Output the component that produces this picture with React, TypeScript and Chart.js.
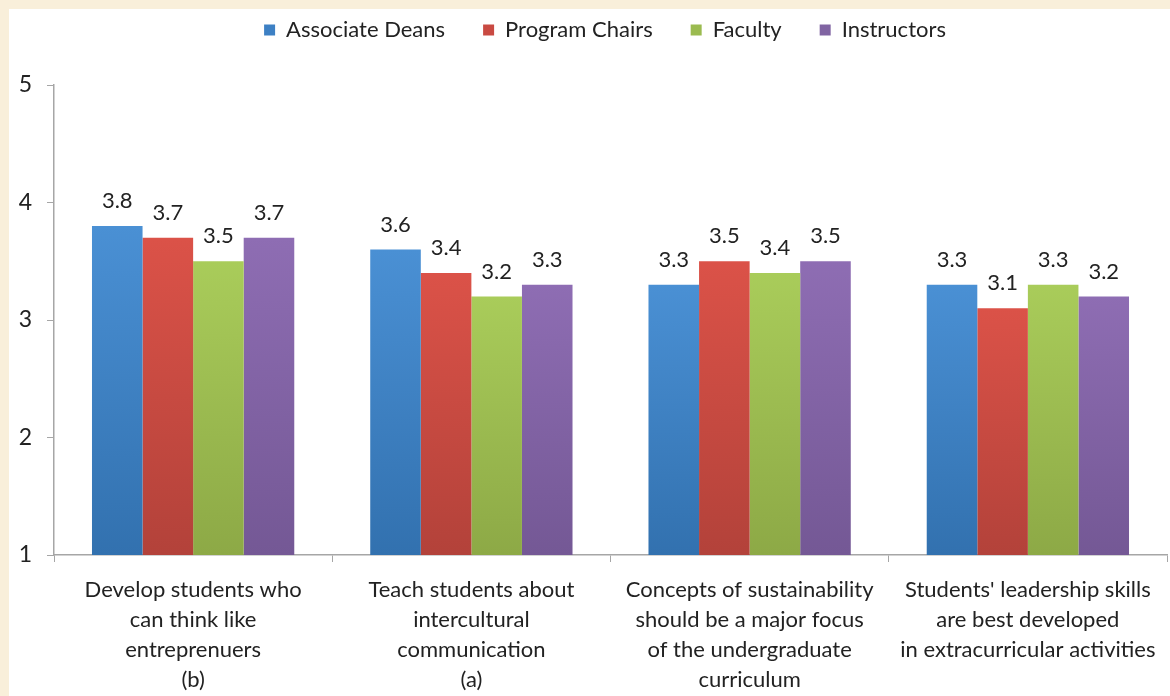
import React, { useEffect, useRef } from "react";
import { Chart, registerables } from "chart.js";

Chart.register(...registerables);

const categories: string[][] = [
  ["Develop students who", "can think like", "entreprenuers", "(b)"],
  ["Teach students about", "intercultural", "communication", "(a)"],
  ["Concepts of sustainability", "should be a major focus", "of the undergraduate", "curriculum"],
  ["Students' leadership skills", "are best developed", "in extracurricular activities"],
];

const seriesNames = ["Associate Deans", "Program Chairs", "Faculty", "Instructors"];
const associateDeans = [3.8, 3.6, 3.3, 3.3];
const programChairs = [3.7, 3.4, 3.5, 3.1];
const faculty = [3.5, 3.2, 3.4, 3.3];
const instructors = [3.7, 3.3, 3.5, 3.2];
const yTicks = [1, 2, 3, 4, 5];

const topColors = ["#4A90D4", "#DB5248", "#A9CC5A", "#8E6DB3"];
const bottomColors = ["#3271AF", "#B3423A", "#8DA946", "#745895"];
const legendColors = ["#3D80C4", "#C94A42", "#9BBB50", "#8064A2"];

const FONT = "Lato, 'Noto Sans', sans-serif";
const FS = 22;
const LEGEND_PAD = 38;

export default function App() {
  const ref = useRef<HTMLCanvasElement | null>(null);

  useEffect(() => {
    if (!ref.current) return;
    const seriesData = [associateDeans, programChairs, faculty, instructors];

    const gradFor = (i: number) => (ctx: any) => {
      const chart = ctx.chart;
      const ys = chart.scales && chart.scales.y;
      if (!ys || ctx.type !== "data") return legendColors[i];
      const v = ctx.parsed ? ctx.parsed.y : seriesData[i][ctx.dataIndex];
      const top = ys.getPixelForValue(v);
      const bot = ys.getPixelForValue(1);
      if (!isFinite(top) || !isFinite(bot) || top === bot) return legendColors[i];
      const g = chart.ctx.createLinearGradient(0, top, 0, bot);
      g.addColorStop(0, topColors[i]);
      g.addColorStop(1, bottomColors[i]);
      return g;
    };

    const legendMargin = {
      id: "legendMargin",
      beforeInit(chart: any) {
        const orig = chart.legend.fit;
        chart.legend.fit = function fit() {
          orig.bind(chart.legend)();
          this.height += 6;
        };
      },
      afterLayout(chart: any) {
        if (chart.legend) {
          chart.legend.top -= 28;
          chart.legend.bottom -= 28;
          chart.legend.left += 17;
          chart.legend.right += 17;
        }
      },
    };

    const valueLabels = {
      id: "valueLabels",
      afterDatasetsDraw(chart: any) {
        const c = chart.ctx;
        c.save();
        c.font = `${FS}px ${FONT}`;
        c.fillStyle = "#222222";
        c.textAlign = "center";
        c.textBaseline = "middle";
        chart.data.datasets.forEach((ds: any, di: number) => {
          const meta = chart.getDatasetMeta(di);
          meta.data.forEach((bar: any, idx: number) => {
            const v = ds.data[idx];
            c.fillText(v.toFixed(1), bar.x, bar.y - 25);
          });
        });
        c.restore();
      },
    };

    const chart = new Chart(ref.current, {
      type: "bar",
      data: {
        labels: categories,
        datasets: seriesNames.map((name, i) => ({
          label: name,
          data: seriesData[i],
          backgroundColor: gradFor(i),
          borderWidth: 0,
          barPercentage: 1,
          categoryPercentage: 0.727,
        })),
      },
      options: {
        animation: false,
        responsive: true,
        maintainAspectRatio: false,
        layout: { padding: { top: 0, left: 0, right: 3, bottom: 0 } },
        plugins: {
          legend: {
            position: "top",
            labels: {
              font: { family: FONT, size: FS },
              color: "#222222",
              boxWidth: 11,
              boxHeight: 11,
              padding: LEGEND_PAD,
              generateLabels: (chart: any) =>
                chart.data.datasets.map((ds: any, i: number) => ({
                  text: ds.label,
                  fillStyle: legendColors[i],
                  strokeStyle: legendColors[i],
                  lineWidth: 0,
                  hidden: false,
                  datasetIndex: i,
                  fontColor: "#222222",
                })),
            },
          },
          tooltip: { enabled: false },
        },
        scales: {
          x: {
            offset: true,
            grid: {
              display: true,
              offset: true,
              drawOnChartArea: false,
              drawTicks: true,
              tickLength: 7,
              color: "#A6A6A6",
            },
            border: { display: true, color: "#A6A6A6", width: 1.5 },
            ticks: {
              autoSkip: false,
              maxRotation: 0,
              minRotation: 0,
              padding: 13,
              color: "#222222",
              font: { family: FONT, size: FS, lineHeight: 1.36 },
            },
            afterFit: (scale: any) => {
              scale.height = 141;
            },
          },
          y: {
            min: 1,
            max: 5,
            afterBuildTicks: (scale: any) => {
              scale.ticks = yTicks.map((v) => ({ value: v }));
            },
            grid: {
              display: true,
              drawOnChartArea: false,
              drawTicks: true,
              tickLength: 7,
              color: "#A6A6A6",
            },
            border: { display: true, color: "#A6A6A6", width: 1.5 },
            ticks: {
              padding: 15,
              color: "#222222",
              font: { family: FONT, size: 23 },
            },
            afterFit: (scale: any) => {
              scale.width = 45;
            },
          },
        },
      },
      plugins: [legendMargin, valueLabels],
    });

    return () => chart.destroy();
  }, []);

  return (
    <div
      style={{
        position: "fixed",
        left: 0,
        top: 0,
        width: 1170,
        height: 696,
        background: "#F9EFDA",
      }}
    >
      <div
        style={{
          position: "absolute",
          left: 9,
          top: 9,
          width: 1161,
          height: 687,
          background: "#FFFFFF",
        }}
      >
        <canvas ref={ref} />
      </div>
    </div>
  );
}
